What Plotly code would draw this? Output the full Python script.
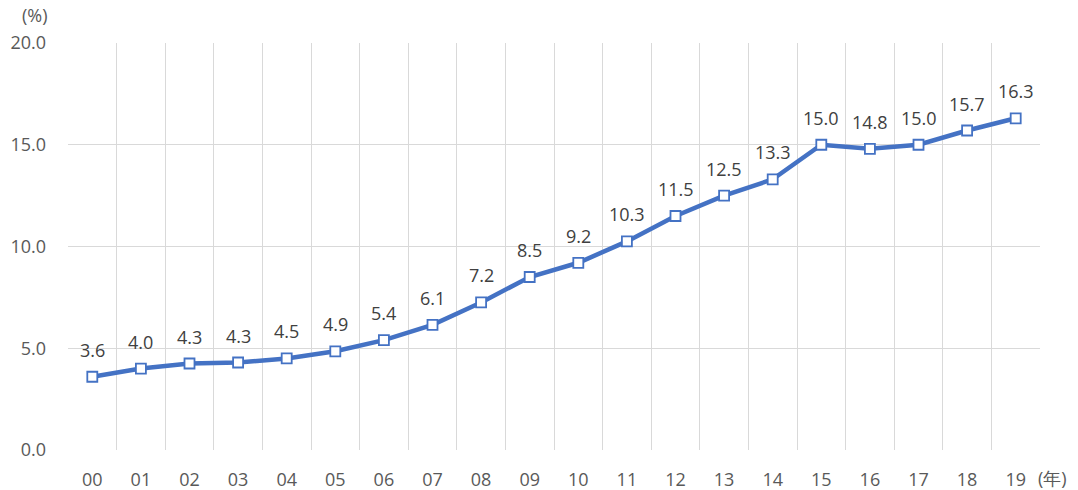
import plotly.graph_objects as go

years = ["00","01","02","03","04","05","06","07","08","09","10","11","12","13","14","15","16","17","18","19"]
values = [3.6, 4.0, 4.25, 4.3, 4.5, 4.85, 5.4, 6.15, 7.25, 8.5, 9.2, 10.25, 11.5, 12.5, 13.3, 15.0, 14.8, 15.0, 15.7, 16.3]
labels = ["3.6","4.0","4.3","4.3","4.5","4.9","5.4","6.1","7.2","8.5","9.2","10.3","11.5","12.5","13.3","15.0","14.8","15.0","15.7","16.3"]
yticks = [0, 5, 10, 15, 20]

xs = list(range(len(years)))
font = "Open Sans, Noto Sans, sans-serif"
tc = "#595959"
fs = 18

fig = go.Figure()
fig.add_trace(go.Scatter(
    x=xs, y=values, mode="lines+markers",
    line=dict(color="#4472C4", width=4.5),
    marker=dict(symbol="square", size=10, color="white", line=dict(color="#4472C4", width=1.8)),
    hoverinfo="skip",
))

for x, y, t in zip(xs, values, labels):
    fig.add_annotation(x=x, y=y, text=t, showarrow=False, yshift=27,
                       font=dict(family=font, size=fs, color="#404040"))

fig.add_annotation(x=1.0, y=0, xref="paper", yref="paper", text="(年)", showarrow=False,
                   xanchor="left", yanchor="middle", xshift=-4, yshift=-28,
                   font=dict(family=font, size=fs, color=tc))
fig.add_annotation(x=0, y=1, xref="paper", yref="paper", text="(%)", showarrow=False,
                   xanchor="left", yanchor="middle", xshift=-48, yshift=28,
                   font=dict(family=font, size=fs, color=tc))

fig.update_layout(
    width=1078, height=490,
    margin=dict(l=68, r=38, t=43, b=40),
    paper_bgcolor="white", plot_bgcolor="white",
    showlegend=False,
    font=dict(family=font, size=fs, color=tc),
    xaxis=dict(
        range=[-0.5, len(years) - 0.5],
        tickvals=xs, ticktext=years, showgrid=False, zeroline=False,
        showline=False, ticks="",
        minor=dict(tickvals=[i - 0.5 for i in range(len(years) + 1)], showgrid=True,
                   gridcolor="#D9D9D9", gridwidth=1.3, ticks=""),
        tickfont=dict(family=font, size=fs, color=tc),
        ticklabelstandoff=17,
        automargin=False,
    ),
    yaxis=dict(
        range=[0, 20], tickvals=yticks, ticktext=[f"{v:.1f}" for v in yticks],
        showgrid=True, gridcolor="#D9D9D9", gridwidth=1.3, zeroline=False,
        showline=False, ticks="",
        tickfont=dict(family=font, size=fs, color=tc),
        ticklabelstandoff=21,
        automargin=False,
    ),
)

fig.write_html("out.html")
